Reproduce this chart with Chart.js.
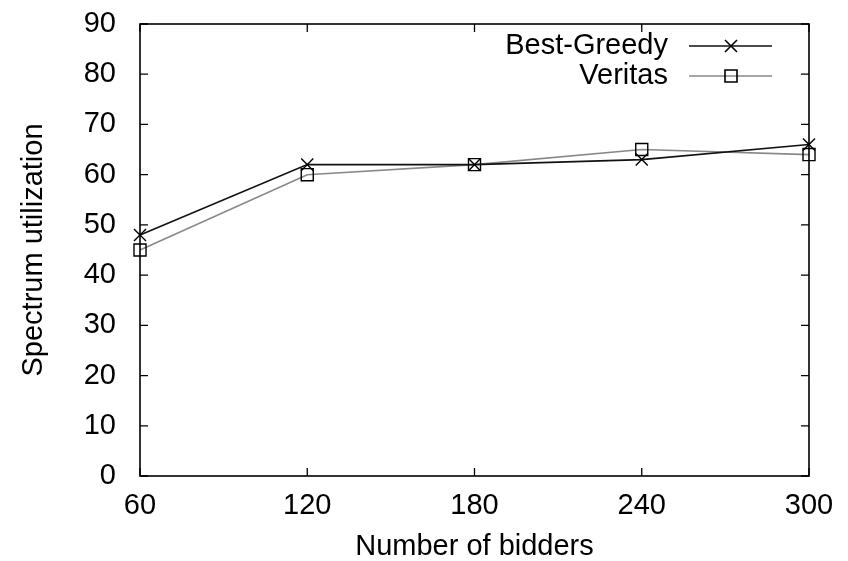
<!DOCTYPE html>
<html>
<head>
<meta charset="utf-8">
<script src="https://cdn.jsdelivr.net/npm/chart.js@4/dist/chart.umd.min.js"></script>
<style>
  html, body { margin: 0; padding: 0; background: #fff; }
  #graph-area { display: block; }
</style>
</head>
<body>
<canvas id="graph-area" width="848" height="561"></canvas>
<script>
const bidders = [60, 120, 180, 240, 300];
const bestGreedy = [48, 62, 62, 63, 66];
const veritas = [45, 60, 62, 65, 64];
const seriesNames = ['Best-Greedy', 'Veritas'];
const xTitle = 'Number of bidders';
const yTitle = 'Spectrum utilization';

const FONT = '"Liberation Sans", Arial, sans-serif';

function toPoints(ys) {
  return bidders.map((x, i) => ({x, y: ys[i]}));
}

// box around the plot with inward ticks on all four sides
const frame = {
  id: 'frame',
  afterDraw(chart) {
    const {ctx, chartArea: a, scales: {x, y}} = chart;
    const len = 8;
    ctx.save();
    ctx.strokeStyle = '#000';
    ctx.lineWidth = 1.3;
    ctx.beginPath();
    x.ticks.forEach(t => {
      const px = x.getPixelForValue(t.value);
      ctx.moveTo(px, a.bottom); ctx.lineTo(px, a.bottom - len);
      ctx.moveTo(px, a.top); ctx.lineTo(px, a.top + len);
    });
    y.ticks.forEach(t => {
      const py = y.getPixelForValue(t.value);
      ctx.moveTo(a.left, py); ctx.lineTo(a.left + len, py);
      ctx.moveTo(a.right, py); ctx.lineTo(a.right - len, py);
    });
    ctx.stroke();
    ctx.lineWidth = 1.6;
    ctx.strokeRect(a.left, a.top, a.right - a.left, a.bottom - a.top);
    ctx.restore();
  }
};

// gnuplot style key: text on the left, line sample with marker on the right
const key = {
  id: 'key',
  afterDraw(chart) {
    const {ctx} = chart;
    ctx.save();
    ctx.font = '29px ' + FONT;
    ctx.textAlign = 'right';
    ctx.textBaseline = 'middle';
    chart.data.datasets.forEach((ds, i) => {
      const yy = 46 + i * 30;
      ctx.fillStyle = '#000';
      ctx.fillText(ds.label, 668, yy);
      ctx.strokeStyle = ds.borderColor;
      ctx.lineWidth = ds.borderWidth;
      ctx.beginPath();
      ctx.moveTo(689, yy);
      ctx.lineTo(772, yy);
      ctx.stroke();
      Chart.helpers.drawPoint(ctx, {
        pointStyle: ds.pointStyle,
        radius: ds.pointRadius,
        borderWidth: ds.pointBorderWidth,
        rotation: 0
      }, 731, yy);
    });
    ctx.restore();
  }
};

const ctx = document.querySelector('#graph-area').getContext('2d');
ctx.canvas.style.width = '848px';
ctx.canvas.style.height = '561px';

// marker stroke color is set on ctx before drawPoint
const oldDrawPoint = Chart.helpers.drawPoint;
Chart.helpers.drawPoint = function(c, opts, px, py) {
  c.strokeStyle = '#000';
  c.fillStyle = 'rgba(0,0,0,0)';
  return oldDrawPoint(c, opts, px, py);
};

new Chart(ctx, {
  type: 'line',
  data: {
    datasets: [
      {
        label: seriesNames[0],
        data: toPoints(bestGreedy),
        borderColor: '#111',
        borderWidth: 1.6,
        pointStyle: 'crossRot',
        pointRadius: 8.5,
        pointBorderColor: '#000',
        pointBorderWidth: 1.4,
        pointBackgroundColor: 'rgba(0,0,0,0)',
        tension: 0,
        clip: false
      },
      {
        label: seriesNames[1],
        data: toPoints(veritas),
        borderColor: '#888',
        borderWidth: 1.6,
        pointStyle: 'rect',
        pointRadius: 8.5,
        pointBorderColor: '#000',
        pointBorderWidth: 1.4,
        pointBackgroundColor: 'rgba(0,0,0,0)',
        tension: 0,
        clip: false
      }
    ]
  },
  options: {
    responsive: false,
    animation: false,
    devicePixelRatio: 1,
    layout: {padding: {top: 24, right: 39, left: 0, bottom: 0}},
    plugins: {legend: {display: false}, tooltip: {enabled: false}},
    scales: {
      x: {
        type: 'linear',
        min: 60,
        max: 300,
        afterFit(s) { s.height = 85; s.paddingLeft = 0; s.paddingRight = 0; },
        afterBuildTicks(s) { s.ticks = bidders.map(v => ({value: v})); },
        grid: {display: false},
        border: {display: false},
        ticks: {color: '#000', padding: 5, font: {family: FONT, size: 29}, maxRotation: 0},
        title: {display: true, text: xTitle, color: '#000', font: {family: FONT, size: 29, lineHeight: 1.0}, padding: {top: 0, bottom: 0}}
      },
      y: {
        min: 0,
        max: 90,
        afterFit(s) { s.width = 140; s.paddingTop = 0; s.paddingBottom = 0; },
        grid: {display: false},
        border: {display: false},
        ticks: {stepSize: 10, color: '#000', padding: 16, font: {family: FONT, size: 29}},
        title: {display: true, text: yTitle, color: '#000', font: {family: FONT, size: 29}, padding: {top: 17, bottom: 0}}
      }
    }
  },
  plugins: [frame, key]
});
</script>
</body>
</html>
